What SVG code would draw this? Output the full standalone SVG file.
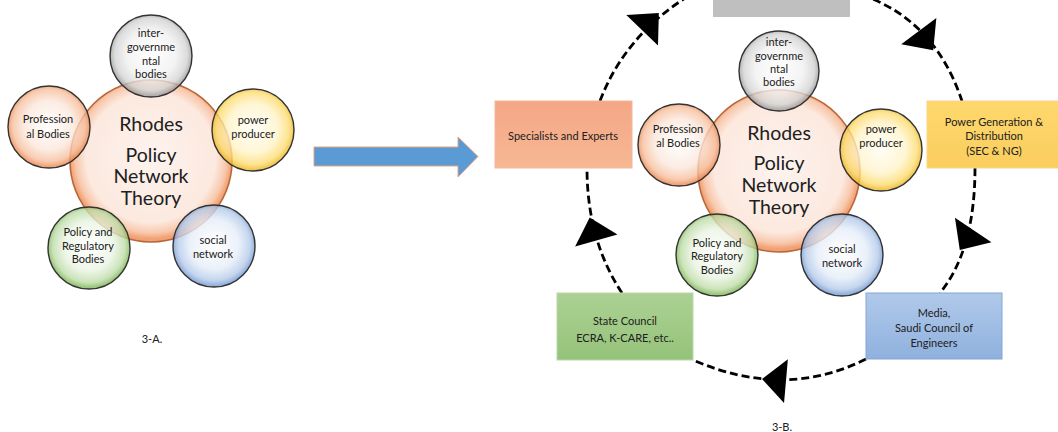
<svg xmlns="http://www.w3.org/2000/svg" width="1058" height="432" viewBox="0 0 1058 432">
<style>
.t{font-family:Lato,"Liberation Sans",sans-serif;fill:#202020;text-anchor:middle;dominant-baseline:central}
.s{font-size:11px}
.b{font-size:19.5px}
.big{fill:url(#gBig);stroke:#b9683a;stroke-width:1.6}
.sm{stroke:#333;stroke-width:1.4;fill-opacity:0.78}
.or{fill:url(#gOr)}.gy{fill:url(#gGy)}.ye{fill:url(#gYe)}.gr{fill:url(#gGr)}.bl{fill:url(#gBl)}
.dash{fill:none;stroke:#000;stroke-width:2.8;stroke-dasharray:8 4}
.ah{fill:#000}
</style>
<defs>
<radialGradient id="gBig" cx="50%" cy="48%" r="50%"><stop offset="0" stop-color="#fdf3ee"/><stop offset="0.8" stop-color="#fce9df"/><stop offset="0.93" stop-color="#f8c8ac"/><stop offset="1" stop-color="#f1a173"/></radialGradient>
<radialGradient id="gOr" cx="50%" cy="48%" r="50%"><stop offset="0" stop-color="#ffffff"/><stop offset="0.6" stop-color="#fbe6da"/><stop offset="0.88" stop-color="#f6bd9b"/><stop offset="1" stop-color="#ec8a52"/></radialGradient>
<radialGradient id="gGy" cx="50%" cy="48%" r="50%"><stop offset="0" stop-color="#ffffff"/><stop offset="0.6" stop-color="#f0f0f0"/><stop offset="0.88" stop-color="#d2d2d2"/><stop offset="1" stop-color="#9e9e9e"/></radialGradient>
<radialGradient id="gYe" cx="50%" cy="48%" r="50%"><stop offset="0" stop-color="#fffef6"/><stop offset="0.6" stop-color="#fff3c8"/><stop offset="0.88" stop-color="#fcdc70"/><stop offset="1" stop-color="#efb925"/></radialGradient>
<radialGradient id="gGr" cx="50%" cy="48%" r="50%"><stop offset="0" stop-color="#ffffff"/><stop offset="0.6" stop-color="#e9f3e2"/><stop offset="0.88" stop-color="#bcdba5"/><stop offset="1" stop-color="#7fb757"/></radialGradient>
<radialGradient id="gBl" cx="50%" cy="48%" r="50%"><stop offset="0" stop-color="#ffffff"/><stop offset="0.6" stop-color="#e5edf8"/><stop offset="0.88" stop-color="#b3c9e9"/><stop offset="1" stop-color="#769bd3"/></radialGradient>
<linearGradient id="rOr" x1="0" y1="0" x2="0" y2="1"><stop offset="0" stop-color="#f4a685"/><stop offset="1" stop-color="#f7b894"/></linearGradient>
<linearGradient id="rYe" x1="0" y1="0" x2="0" y2="1"><stop offset="0" stop-color="#fed86d"/><stop offset="1" stop-color="#facd5e"/></linearGradient>
<linearGradient id="rGr" x1="0" y1="0" x2="0" y2="1"><stop offset="0" stop-color="#acd193"/><stop offset="1" stop-color="#95c37a"/></linearGradient>
<linearGradient id="rBl" x1="0" y1="0" x2="0" y2="1"><stop offset="0" stop-color="#b0c9ea"/><stop offset="1" stop-color="#8fb1de"/></linearGradient>
<polygon id="ahd" points="12,0 -12,-22 -12,22"/>
</defs>
<rect width="1058" height="432" fill="#fff"/>

<!-- 3-A -->
<g id="a-center"><circle class="big" cx="151" cy="161" r="81"/></g>
<g id="a-intergov"><circle class="sm gy" cx="151" cy="56" r="41"/><text class="t s" x="151" y="32">inter-</text><text class="t s" x="151" y="46">governme</text><text class="t s" x="151" y="60">ntal</text><text class="t s" x="151" y="73">bodies</text></g>
<g id="a-prof"><circle class="sm or" cx="49" cy="127" r="41"/><text class="t s" x="48" y="118">Profession</text><text class="t s" x="48" y="133">al Bodies</text></g>
<g id="a-power"><circle class="sm ye" cx="253" cy="130" r="41"/><text class="t s" x="253" y="119">power</text><text class="t s" x="253" y="133">producer</text></g>
<g id="a-policy"><circle class="sm gr" cx="89" cy="248" r="41"/><text class="t s" x="88" y="231">Policy and</text><text class="t s" x="88" y="245">Regulatory</text><text class="t s" x="88" y="258">Bodies</text></g>
<g id="a-social"><circle class="sm bl" cx="214" cy="246" r="41"/><text class="t s" x="213" y="239">social</text><text class="t s" x="213" y="253">network</text></g>
<g id="a-label"><text class="t b" x="151" y="123">Rhodes</text><text class="t b" x="151" y="154">Policy</text><text class="t b" x="151" y="175">Network</text><text class="t b" x="151" y="197">Theory</text></g>
<text class="t s" x="152" y="338">3-A.</text>

<!-- transition arrow -->
<g id="transition"><polygon points="314,147 458,147 458,137 478,156.5 458,177 458,166 314,166" fill="#5b9bd5" stroke="#eaa27c" stroke-width="1"/></g>

<!-- 3-B connectors -->
<g id="connectors">
<path class="dash" d="M600,101 Q625,35 690,-5"/>
<path class="dash" d="M862,-5 Q935,20 962,101"/>
<path class="dash" d="M975,168 Q975,250 940,293"/>
<path class="dash" d="M866,359 Q785,400 693,360"/>
<path class="dash" d="M622,293 Q587,240 587,168"/>
<use href="#ahd" class="ah" transform="translate(650.5,21.7) rotate(-46)"/>
<use href="#ahd" class="ah" transform="translate(926,40.7) rotate(53)"/>
<use href="#ahd" class="ah" transform="translate(966.5,240) rotate(124)"/>
<use href="#ahd" class="ah" transform="translate(774,380) rotate(185)"/>
<use href="#ahd" class="ah" transform="translate(593,229) rotate(-106)"/>
</g>

<g id="b-top"><rect x="713" y="-20" width="137" height="37" fill="#bfbfbf"/></g>
<g id="b-specialists"><rect x="495" y="101" width="137" height="67" fill="url(#rOr)" stroke="#f2b89c" stroke-width="1"/><text class="t s" x="563" y="135">Specialists and Experts</text></g>
<g id="b-power"><rect x="927" y="101" width="133" height="67" fill="url(#rYe)" stroke="#f6d889" stroke-width="1"/><text class="t s" x="994" y="121">Power Generation &amp;</text><text class="t s" x="994" y="135">Distribution</text><text class="t s" x="994" y="150">(SEC &amp; NG)</text></g>
<g id="b-state"><rect x="557" y="293" width="136" height="67" fill="url(#rGr)" stroke="#b9d8a6" stroke-width="1"/><text class="t s" x="625" y="320">State Council</text><text class="t s" x="625" y="337">ECRA, K-CARE, etc..</text></g>
<g id="b-media"><rect x="866" y="293" width="136" height="66" fill="url(#rBl)" stroke="#86a6d4" stroke-width="1"/><text class="t s" x="934" y="312">Media,</text><text class="t s" x="934" y="327">Saudi Council of</text><text class="t s" x="934" y="342">Engineers</text></g>

<g id="b-center"><circle class="big" cx="779" cy="171" r="81"/></g>
<g id="b-intergov"><circle class="sm gy" cx="779" cy="71" r="40"/><text class="t s" x="779" y="41">inter-</text><text class="t s" x="779" y="55">governme</text><text class="t s" x="779" y="68">ntal</text><text class="t s" x="779" y="81">bodies</text></g>
<g id="b-prof"><circle class="sm or" cx="679" cy="145" r="41"/><text class="t s" x="678" y="128">Profession</text><text class="t s" x="678" y="142">al Bodies</text></g>
<g id="b-power-c"><circle class="sm ye" cx="881" cy="150" r="41"/><text class="t s" x="881" y="128">power</text><text class="t s" x="881" y="142">producer</text></g>
<g id="b-policy"><circle class="sm gr" cx="717" cy="255" r="41"/><text class="t s" x="717" y="242">Policy and</text><text class="t s" x="717" y="255">Regulatory</text><text class="t s" x="717" y="269">Bodies</text></g>
<g id="b-social"><circle class="sm bl" cx="842" cy="255" r="41"/><text class="t s" x="842" y="248">social</text><text class="t s" x="842" y="262">network</text></g>
<g id="b-label"><text class="t b" x="779" y="132">Rhodes</text><text class="t b" x="779" y="162">Policy</text><text class="t b" x="779" y="184">Network</text><text class="t b" x="779" y="206">Theory</text></g>
<text class="t s" x="782" y="426">3-B.</text>
</svg>
